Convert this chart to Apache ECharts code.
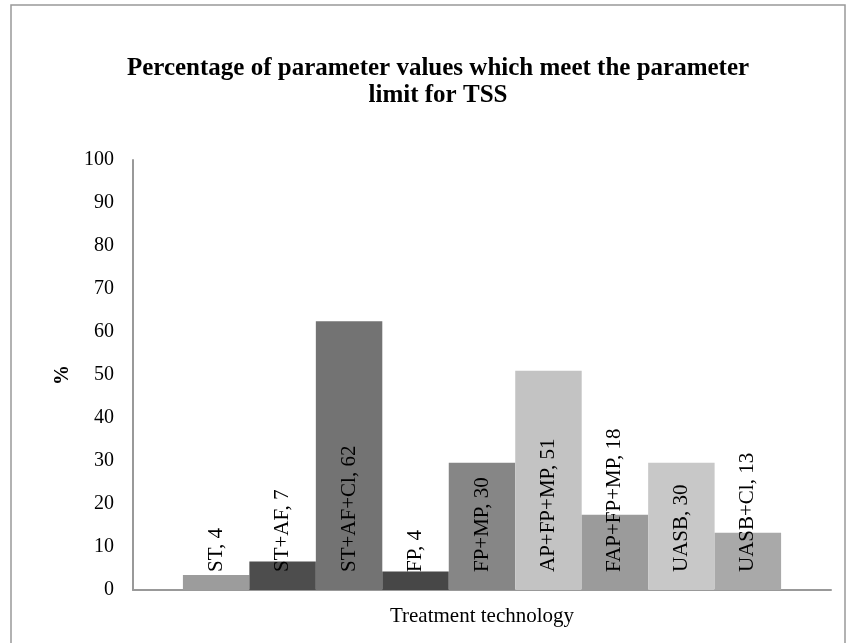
<!DOCTYPE html>
<html>
<head>
<meta charset="utf-8">
<script src="https://cdn.jsdelivr.net/npm/echarts@6/dist/echarts.min.js"></script>
<style>
  html, body { margin: 0; padding: 0; background: #fff; }
  #main { width: 848px; height: 643px; }
</style>
</head>
<body>
<div id="main"></div>
<script>
var technologies = ['ST', 'ST+AF', 'ST+AF+Cl', 'FP', 'FP+MP', 'AP+FP+MP', 'FAP+FP+MP', 'UASB', 'UASB+Cl']
var percentValues = [3.5, 6.6, 62.5, 4.3, 29.6, 51, 17.5, 29.6, 13.3]
var labelValues = [4, 7, 62, 4, 30, 51, 18, 30, 13]
var barColors = ['#9c9c9c', '#4d4d4d', '#737373', '#474747', '#868686', '#c3c3c3', '#9b9b9b', '#c8c8c8', '#a9a9a9']

var font = "'Liberation Serif', 'Times New Roman', serif"
var chart = echarts.init(document.getElementById('main'))

var series = technologies.map(function (name, i) {
  return {
    name: name,
    type: 'bar',
    barGap: 0,
    barCategoryGap: '14.3%',
    itemStyle: { color: barColors[i] },
    label: {
      show: true,
      position: 'insideBottom',
      distance: 18,
      rotate: 90,
      align: 'left',
      verticalAlign: 'middle',
      fontFamily: font,
      fontSize: 21,
      color: '#000',
      formatter: name + ', ' + labelValues[i]
    },
    data: [percentValues[i]]
  }
})

var option = {
  animation: false,
  backgroundColor: '#fff',
  title: {
    text: 'Percentage of parameter values which meet the parameter\nlimit for TSS',
    left: 433,
    top: 50,
    textAlign: 'center',
    textStyle: {
      fontFamily: font,
      fontWeight: 'bold',
      fontSize: 25,
      lineHeight: 27,
      color: '#000'
    }
  },
  graphic: [{
    type: 'rect',
    shape: { x: 11, y: 5, width: 834, height: 650 },
    style: { fill: 'none', stroke: '#999', lineWidth: 1.5 }
  }],
  grid: { left: 133, right: 17, top: 160, bottom: 53 },
  xAxis: {
    type: 'category',
    data: [''],
    name: 'Treatment technology',
    nameLocation: 'middle',
    nameGap: 16,
    nameTextStyle: { fontFamily: font, fontSize: 21, color: '#000' },
    axisLine: { lineStyle: { color: '#999', width: 2 } },
    axisTick: { show: false },
    axisLabel: { show: false }
  },
  yAxis: {
    type: 'value',
    min: 0,
    max: 100,
    interval: 10,
    name: '%',
    nameLocation: 'middle',
    nameGap: 58,
    nameTextStyle: { fontFamily: font, fontSize: 20, fontWeight: 'bold', color: '#000' },
    axisLine: { show: true, lineStyle: { color: '#999', width: 2 } },
    axisTick: { show: false },
    splitLine: { show: false },
    axisLabel: { fontFamily: font, fontSize: 20, color: '#000', margin: 19 }
  },
  series: series
}

chart.setOption(option)
</script>
</body>
</html>
